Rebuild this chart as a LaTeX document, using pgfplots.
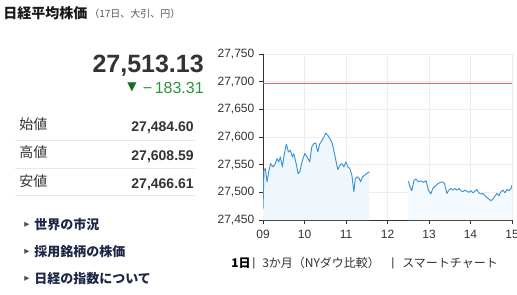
\documentclass[border=0pt]{standalone}
\usepackage{pgfplots}
\pgfplotsset{compat=1.18}
\usepackage{pgfplotstable}
\usepackage{fontspec}
\setmainfont{Liberation Sans}
\newfontfamily\jp{Noto Sans CJK JP}
\newfontfamily\dejavu{DejaVu Sans}
\definecolor{linecol}{RGB}{58,146,216}
\definecolor{fillcol}{RGB}{239,247,253}
\definecolor{fillcolb}{RGB}{245,250,254}
\definecolor{refline}{RGB}{232,100,112}
\definecolor{txt}{RGB}{51,51,51}
\definecolor{navy}{RGB}{30,40,70}
\definecolor{grn}{RGB}{40,150,60}
\definecolor{dgrn}{RGB}{20,110,30}
\definecolor{sep}{RGB}{232,232,232}

\pgfplotstableread{
m v
0 27470
1.4 27540
3.4 27543
5.8 27519
8.7 27540
11.1 27552
14.5 27546
17.4 27551
20.3 27561
22.7 27555
25.1 27564
28.0 27546
30.9 27570
33.8 27587
36.7 27573
39.6 27576
42.5 27564
44.5 27570
47.4 27555
50.7 27534
53.2 27537
57.0 27558
60.4 27570
63.8 27564
67.6 27555
70.5 27582
73.4 27588
76.3 27589
79.2 27573
82.1 27588
85.0 27593
87.9 27600
90.8 27607
93.7 27603
96.6 27597
99.5 27591
102.4 27576
105.3 27558
108.2 27541
111.1 27549
114.0 27552
116.9 27546
119.8 27555
122.7 27546
125.6 27543
128.5 27531
131.4 27501
133.4 27525
136.3 27528
139.2 27525
141.1 27519
144.0 27528
146.9 27531
149.8 27534
153.7 27537
}\morning

\pgfplotstableread{
m v
210.2 27520
212.6 27510
215.0 27503
218.4 27522
221.3 27524
224.7 27519
228.1 27521
231.9 27518
235.8 27521
239.2 27504
242.6 27497
245.5 27507
248.9 27511
252.3 27515
256.1 27518
259.5 27519
262.4 27516
265.8 27498
268.7 27504
271.6 27507
274.5 27504
277.4 27507
280.3 27504
283.2 27507
286.1 27503
289.0 27501
291.9 27504
294.8 27502
297.7 27500
300.6 27503
303.5 27499
306.4 27502
309.2 27505
312.1 27499
315.0 27497
317.9 27498
320.8 27494
323.7 27491
326.6 27488
329.5 27485
332.4 27488
335.3 27493
338.2 27498
341.1 27494
344.0 27501
346.9 27504
349.8 27499
352.7 27505
355.6 27503
358.5 27507
360.0 27513
}\afternoon

\pgfplotstableread{
m v
0 27696.44
360 27696.44
}\prevclose

\begin{document}
\begin{tikzpicture}
\path[use as bounding box, fill=white] (0pt,0pt) rectangle (387.75pt,-220.5pt);

\begin{axis}[
  at={(197.25pt,-165pt)}, anchor=south west,
  scale only axis, width=186.75pt, height=124.5pt,
  xmin=0, xmax=360, ymin=27450, ymax=27750,
  axis x line*=bottom, axis y line*=left,
  axis line style={-, draw=txt, line width=0.6pt},
  xtick={0,60,120,180,240,300,360},
  xticklabels={09,10,11,12,13,14,15},
  ytick={27450,27500,27550,27600,27650,27700,27750},
  grid=major, grid style={draw=black!7, line width=0.5pt},
  tick style={draw=txt, line width=0.5pt},
  tick align=outside, major tick length=3pt,
  ticklabel style={font=\fontsize{9pt}{10pt}\selectfont, text=txt},
  scaled y ticks=false,
  yticklabel style={/pgf/number format/.cd, 1000 sep={,}, assume math mode=true},
  xticklabel style={yshift=-1pt},
  clip=true,
]
\addplot[draw=none, fill=fillcol] table[x=m,y=v] {\morning} -- (axis cs:153.7,27450) -- (axis cs:0,27450) -- cycle;
\addplot[draw=none, fill=fillcolb] table[x=m,y=v] {\afternoon} -- (axis cs:360,27450) -- (axis cs:210.2,27450) -- cycle;
\addplot[color=linecol, solid, mark=none, line width=0.7pt, line join=round] table[x=m,y=v] {\morning};
\addplot[color=linecol, solid, mark=none, line width=0.7pt, line join=round] table[x=m,y=v] {\afternoon};
\addplot[color=refline, solid, mark=none, line width=0.9pt] table[x=m,y=v] {\prevclose};
\end{axis}

\begin{scope}[x=0.75pt, y=-0.75pt]
% header
\node[anchor=west, inner sep=0pt, text=black!90] at (3,13) {\jp\bfseries\fontsize{10.5pt}{12pt}\selectfont 日経平均株価};
\node[anchor=west, inner sep=0pt, text=black!65] at (89,14) {\jp\fontsize{7.5pt}{9pt}\selectfont （17日、大引、円）};
% price
\node[anchor=base east, inner sep=0pt, text=txt] at (204,72) {\bfseries\fontsize{18.75pt}{22pt}\selectfont 27,513.13};
\node[anchor=center, inner sep=0pt, text=dgrn] at (132,87) {\dejavu\fontsize{9pt}{10pt}\selectfont ▼};
\node[anchor=base east, inner sep=0pt, text=grn] at (204,93) {\fontsize{12pt}{14pt}\selectfont −\,183.31};
% table
\draw[sep, line width=0.75pt] (15,140) -- (195,140);
\draw[sep, line width=0.75pt] (15,168) -- (195,168);
\draw[sep, line width=0.75pt] (15,195) -- (195,195);
\node[anchor=west, inner sep=0pt, text=txt] at (19,124) {\jp\fontsize{10.5pt}{12pt}\selectfont 始値};
\node[anchor=west, inner sep=0pt, text=txt] at (19,152) {\jp\fontsize{10.5pt}{12pt}\selectfont 高値};
\node[anchor=west, inner sep=0pt, text=txt] at (19,181) {\jp\fontsize{10.5pt}{12pt}\selectfont 安値};
\node[anchor=base east, inner sep=0pt, text=txt] at (194,131.5) {\bfseries\fontsize{10.5pt}{12pt}\selectfont 27,484.60};
\node[anchor=base east, inner sep=0pt, text=txt] at (194,160) {\bfseries\fontsize{10.5pt}{12pt}\selectfont 27,608.59};
\node[anchor=base east, inner sep=0pt, text=txt] at (194,188) {\bfseries\fontsize{10.5pt}{12pt}\selectfont 27,466.61};
% links
\foreach \yy/\tt in {225/世界の市況, 252/採用銘柄の株価, 279/日経の指数について}{
  \node[anchor=center, inner sep=0pt, text=black!70] at (27,\yy) {\dejavu\fontsize{5pt}{6pt}\selectfont ▶};
  \node[anchor=west, inner sep=0pt, text=navy] at (34,\yy) {\jp\bfseries\fontsize{9.75pt}{11pt}\selectfont \tt};
}
% bottom links
\node[anchor=west, inner sep=0pt, text=black] at (231,263) {\jp\bfseries\fontsize{9pt}{10pt}\selectfont 1日};
\node[anchor=center, inner sep=0pt, text=txt] at (254,263) {\fontsize{9pt}{10pt}\selectfont |};
\node[anchor=west, inner sep=0pt, text=txt] at (262,263) {\jp\fontsize{9pt}{10pt}\selectfont 3か月（NYダウ比較）};
\node[anchor=center, inner sep=0pt, text=txt] at (393,263) {\fontsize{9pt}{10pt}\selectfont |};
\node[anchor=west, inner sep=0pt, text=txt] at (402,263) {\jp\fontsize{9pt}{10pt}\selectfont スマートチャート};
\end{scope}
\end{tikzpicture}
\end{document}
